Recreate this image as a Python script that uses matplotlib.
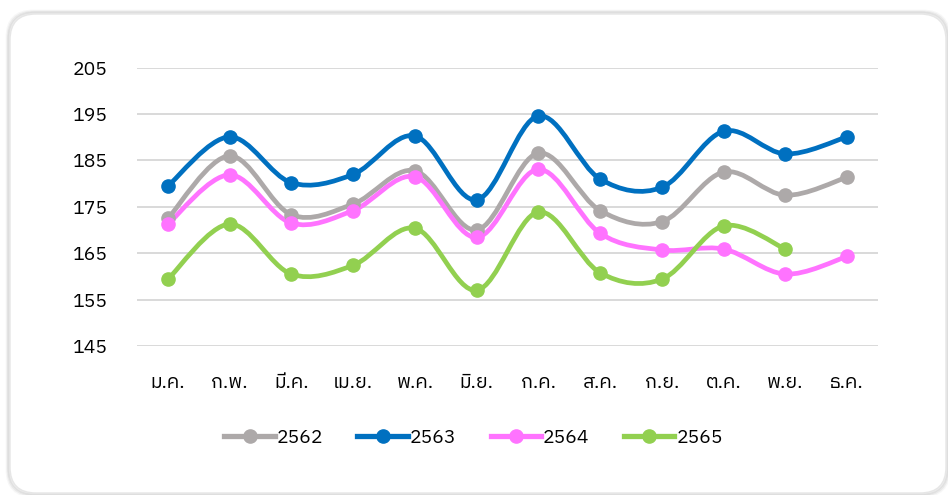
import numpy as np
import matplotlib
matplotlib.use("Agg")
import matplotlib.pyplot as plt
from matplotlib import font_manager
from matplotlib.path import Path
from matplotlib.patches import PathPatch, FancyBboxPatch
from matplotlib.lines import Line2D

# data
months = ['ม.ค.', 'ก.พ.', 'มี.ค.', 'เม.ย.', 'พ.ค.', 'มิ.ย.',
          'ก.ค.', 'ส.ค.', 'ก.ย.', 'ต.ค.', 'พ.ย.', 'ธ.ค.']
years = ['2562', '2563', '2564', '2565']
v2562 = [172.5, 186.0, 173.3, 175.6, 182.8, 170.0, 186.6, 174.2, 171.8, 182.5, 177.5, 181.4]
v2563 = [179.5, 190.1, 180.2, 182.0, 190.3, 176.5, 194.6, 181.0, 179.2, 191.3, 186.4, 190.1]
v2564 = [171.3, 181.9, 171.5, 174.2, 181.5, 168.4, 183.1, 169.3, 165.7, 165.9, 160.5, 164.3]
v2565 = [159.4, 171.3, 160.5, 162.4, 170.4, 157.0, 173.9, 160.8, 159.4, 170.9, 165.9]
yticks = [145, 155, 165, 175, 185, 195, 205]

colors = ['#ADA9A9', '#0070C0', '#FF73FF', '#92D050']

# find an installed font that has Thai glyphs
thai_font = None
try:
    from fontTools.ttLib import TTFont
    for f in font_manager.findSystemFonts():
        try:
            tt = TTFont(f, fontNumber=0, lazy=True)
            cmap = tt.getBestCmap()
            if cmap and 0x0E01 in cmap and 0x0E04 in cmap:
                name = font_manager.FontProperties(fname=f).get_name()
                thai_font = name
                if 'Sans' in name or 'Tahoma' in name:
                    break
        except Exception:
            pass
except Exception:
    pass

families = ['DejaVu Sans']
if thai_font:
    families = [thai_font, 'DejaVu Sans']
plt.rcParams['font.family'] = families


def smooth_path(xs, ys):
    # Catmull-Rom style bezier like Excel's smoothed line
    pts = np.column_stack([xs, ys])
    n = len(pts)
    verts = [pts[0]]
    codes = [Path.MOVETO]
    for i in range(n - 1):
        p0 = pts[i - 1] if i > 0 else pts[i]
        p1 = pts[i]
        p2 = pts[i + 1]
        p3 = pts[i + 2] if i + 2 < n else pts[i + 1]
        c1 = p1 + (p2 - p0) / 6.0
        c2 = p2 - (p3 - p1) / 6.0
        verts += [c1, c2, p2]
        codes += [Path.CURVE4] * 3
    return Path(verts, codes)


fig = plt.figure(figsize=(9.48, 4.95), dpi=100)

# card background with soft shadow
for k, a in enumerate([0.03, 0.05, 0.07]):
    s = 3 - k
    fig.patches.append(FancyBboxPatch((10 - s, 2 - s), 936 + 2 * s, 479 + 2 * s,
                                      boxstyle="round,pad=0,rounding_size=26",
                                      transform=None, facecolor='none',
                                      edgecolor=(0, 0, 0, a), linewidth=2,
                                      zorder=-3))
fig.patches.append(FancyBboxPatch((10, 2), 936, 479,
                                  boxstyle="round,pad=0,rounding_size=26",
                                  transform=None, facecolor='white',
                                  edgecolor='#E6E6E6', linewidth=1, zorder=-2))

ax = fig.add_axes([137 / 948, 1 - 346 / 495, (878 - 137) / 948, (346 - 67.7) / 495])
ax.set_facecolor('none')

x = np.arange(len(months))
series = [v2562, v2563, v2564, v2565]
for vals, c in zip(series, colors):
    xs = x[:len(vals)]
    ax.add_patch(PathPatch(smooth_path(xs, np.array(vals)), facecolor='none',
                           edgecolor=c, linewidth=3.4, capstyle='round',
                           joinstyle='round', zorder=3))
    ax.plot(xs, vals, linestyle='none', marker='o', markersize=9.5,
            color=c, zorder=4, clip_on=False)

ax.set_xlim(-0.5, len(months) - 0.5)
ax.set_ylim(145, 205)
ax.set_yticks(yticks)
ax.set_xticks(x)
ax.set_xticklabels(months)
ax.tick_params(axis='both', length=0, labelsize=14, colors='black')
ax.tick_params(axis='y', pad=21)
ax.tick_params(axis='x', pad=20)
ax.grid(axis='y', color='#D9D9D9', linewidth=1.4)
ax.set_axisbelow(True)
for sp in ax.spines.values():
    sp.set_visible(False)

handles = [Line2D([0], [0], color=c, linewidth=3.8, marker='o', markersize=9.5)
           for c in colors]
fig.legend(handles, years, loc='center', bbox_to_anchor=(0.4995, 1 - 438 / 495),
           ncol=4, frameon=False, fontsize=14, handlelength=2.6,
           handletextpad=0.1, columnspacing=1.75)

plt.savefig('out.png', dpi=100)
